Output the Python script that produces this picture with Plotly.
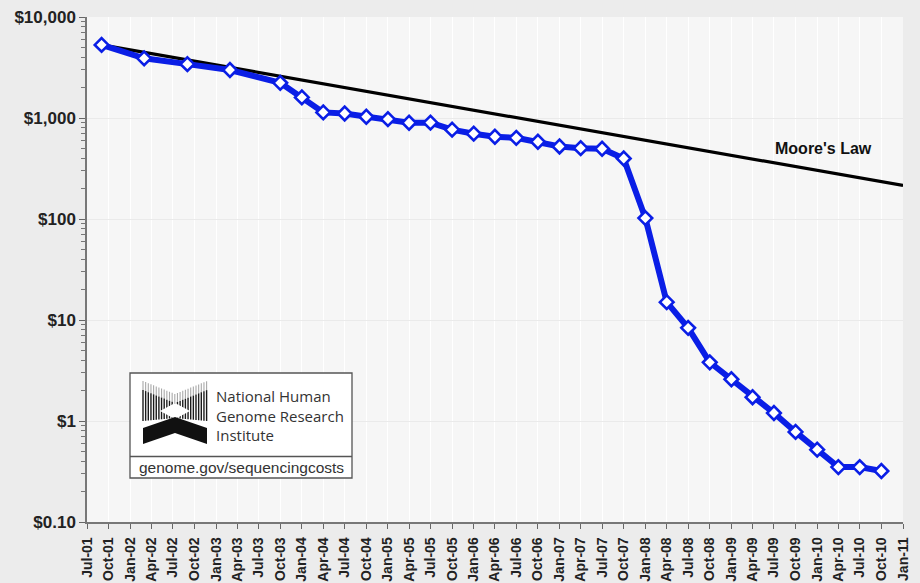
import plotly.graph_objects as go

# ---------------- data ----------------
cost_dates = ["2001-09-01", "2002-03-01", "2002-09-01", "2003-03-01", "2003-10-01",
              "2004-01-01", "2004-04-01", "2004-07-01", "2004-10-01", "2005-01-01",
              "2005-04-01", "2005-07-01", "2005-10-01", "2006-01-01", "2006-04-01",
              "2006-07-01", "2006-10-01", "2007-01-01", "2007-04-01", "2007-07-01",
              "2007-10-01", "2008-01-01", "2008-04-01", "2008-07-01", "2008-10-01",
              "2009-01-01", "2009-04-01", "2009-07-01", "2009-10-01", "2010-01-01",
              "2010-04-01", "2010-07-01", "2010-10-01"]
cost_per_mb = [5292.39, 3898.64, 3413.80, 2986.20, 2230.98,
               1598.91, 1135.70, 1107.46, 1028.85, 974.16,
               897.76, 898.90, 766.73, 699.20, 651.81,
               636.41, 581.92, 522.71, 502.61, 495.96,
               397.09, 102.13, 15.03, 8.36, 3.81,
               2.59, 1.72, 1.20, 0.78, 0.52,
               0.35, 0.35, 0.32]

moore_dates = ["2001-09-01", "2011-01-01"]
moore_values = [5292.39, 215.0]

tick_dates = ["2001-07-01", "2001-10-01",
              "2002-01-01", "2002-04-01", "2002-07-01", "2002-10-01",
              "2003-01-01", "2003-04-01", "2003-07-01", "2003-10-01",
              "2004-01-01", "2004-04-01", "2004-07-01", "2004-10-01",
              "2005-01-01", "2005-04-01", "2005-07-01", "2005-10-01",
              "2006-01-01", "2006-04-01", "2006-07-01", "2006-10-01",
              "2007-01-01", "2007-04-01", "2007-07-01", "2007-10-01",
              "2008-01-01", "2008-04-01", "2008-07-01", "2008-10-01",
              "2009-01-01", "2009-04-01", "2009-07-01", "2009-10-01",
              "2010-01-01", "2010-04-01", "2010-07-01", "2010-10-01",
              "2011-01-01"]
tick_labels = ["Jul-01", "Oct-01",
               "Jan-02", "Apr-02", "Jul-02", "Oct-02",
               "Jan-03", "Apr-03", "Jul-03", "Oct-03",
               "Jan-04", "Apr-04", "Jul-04", "Oct-04",
               "Jan-05", "Apr-05", "Jul-05", "Oct-05",
               "Jan-06", "Apr-06", "Jul-06", "Oct-06",
               "Jan-07", "Apr-07", "Jul-07", "Oct-07",
               "Jan-08", "Apr-08", "Jul-08", "Oct-08",
               "Jan-09", "Apr-09", "Jul-09", "Oct-09",
               "Jan-10", "Apr-10", "Jul-10", "Oct-10",
               "Jan-11"]

y_tick_vals = [0.1, 1, 10, 100, 1000, 10000]
y_tick_text = ["$0.10", "$1", "$10", "$100", "$1,000", "$10,000"]

# ---------------- layout helpers (pixel -> paper) ----------------
W, H = 920, 583
L, R, T, B = 87, 17, 17, 61
PW = W - L - R
PH = H - T - B


def px(x):
    return (x - L) / PW


def py(y):
    return (H - B - y) / PH


fig = go.Figure()

fig.add_trace(go.Scatter(
    x=moore_dates, y=moore_values, mode="lines",
    line=dict(color="#000000", width=3.2),
    showlegend=False, hoverinfo="skip"))

fig.add_trace(go.Scatter(
    x=cost_dates, y=cost_per_mb, mode="lines+markers",
    line=dict(color="#0a1ee6", width=6),
    marker=dict(symbol="diamond", size=10.5, color="white",
                line=dict(color="#0a1ee6", width=2.6)),
    showlegend=False))

shapes = []
annotations = []

# logo box
shapes.append(dict(type="rect", xref="paper", yref="paper",
                   x0=px(130), x1=px(352), y0=py(478), y1=py(373),
                   line=dict(color="#555555", width=1.3), fillcolor="white", layer="above"))
shapes.append(dict(type="line", xref="paper", yref="paper",
                   x0=px(130), x1=px(352), y0=py(456.5), y1=py(456.5),
                   line=dict(color="#555555", width=1.3), layer="above"))

# logo emblem (stylised striped X)
cx = 175.0
xs = [143 + i * 2.65 for i in range(25)]
for xv in xs:
    d = abs(xv - cx) / 32.0
    top = 381 + 13 * (1 - d)
    gmid = top + 9
    shapes.append(dict(type="line", xref="paper", yref="paper",
                       x0=px(xv), x1=px(xv), y0=py(top), y1=py(gmid),
                       line=dict(color="#a8a8a8", width=1.1), layer="above"))
    bot = 421 - 3 * (1 - d)
    shapes.append(dict(type="line", xref="paper", yref="paper",
                       x0=px(xv), x1=px(xv), y0=py(gmid), y1=py(bot),
                       line=dict(color="#1a1a1a", width=1.4), layer="above"))


def poly(points, color):
    path = "M " + " L ".join(f"{px(a):.5f},{py(b):.5f}" for a, b in points) + " Z"
    return dict(type="path", xref="paper", yref="paper", path=path,
                fillcolor=color, line=dict(width=0), layer="above")


shapes.append(poly([(160, 411), (175, 403), (190, 411), (175, 419)], "white"))
shapes.append(poly([(143, 428), (175, 417), (207, 428), (207, 444), (175, 433), (143, 444)], "#111111"))

annotations.append(dict(xref="paper", yref="paper", x=px(214), y=py(415),
                        xanchor="left", yanchor="middle", showarrow=False,
                        align="left",
                        text="National Human<br>Genome Research<br>Institute",
                        font=dict(family="Open Sans", size=15, color="#333333")))
annotations.append(dict(xref="paper", yref="paper", x=px(241), y=py(467),
                        xanchor="center", yanchor="middle", showarrow=False,
                        text="genome.gov/sequencingcosts",
                        font=dict(family="Arial, Liberation Sans", size=15.5, color="#333333")))

annotations.append(dict(xref="paper", yref="paper", x=px(823), y=py(148),
                        xanchor="center", yanchor="middle", showarrow=False,
                        text="<b>Moore's Law</b>",
                        font=dict(family="Arial, Liberation Sans", size=16, color="#111111")))

fig.update_layout(
    width=W, height=H,
    margin=dict(l=L, r=R, t=T, b=B, autoexpand=False),
    paper_bgcolor="#ececec",
    plot_bgcolor="#f6f6f6",
    shapes=shapes,
    annotations=annotations,
    font=dict(family="Arial, Liberation Sans", color="#222222"),
)

fig.update_xaxes(
    type="date",
    range=["2001-07-01", "2011-01-01"],
    tickmode="array", tickvals=tick_dates, ticktext=tick_labels,
    tickangle=-90,
    tickfont=dict(family="Arial, Liberation Sans", size=14, color="#222222", weight="bold"),
    ticks="outside", ticklen=5, tickcolor="#666666",
    ticklabelstandoff=3,
    showline=True, linecolor="#777777", linewidth=1.5,
    showgrid=True, gridcolor="#ffffff", gridwidth=1,
    zeroline=False, automargin=False,
)

fig.update_yaxes(
    type="log",
    range=[-1, 4],
    tickmode="array", tickvals=y_tick_vals, ticktext=y_tick_text,
    tickfont=dict(family="Arial, Liberation Sans", size=17, color="#222222", weight="bold"),
    ticks="outside", ticklen=6, tickcolor="#666666",
    minor=dict(ticks="outside", ticklen=4, tickcolor="#777777", dtick="D1", showgrid=False),
    showline=True, linecolor="#777777", linewidth=1.5,
    showgrid=True, gridcolor="#eaeaea", gridwidth=1,
    zeroline=False, automargin=False,
)

fig.write_html("out.html",
               config={"displayModeBar": False},
               post_script="document.body.style.margin='0px';document.body.style.overflow='hidden';")
